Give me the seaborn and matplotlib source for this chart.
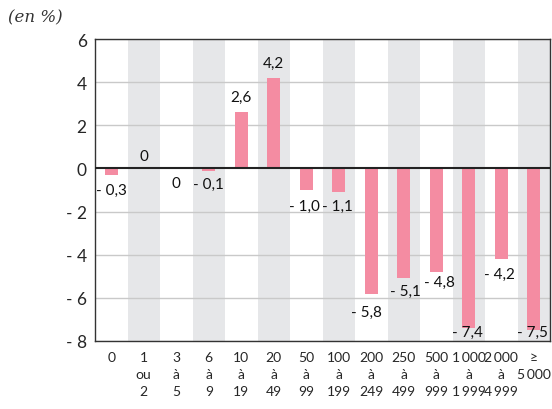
import matplotlib
matplotlib.use("Agg")
import matplotlib.pyplot as plt
import seaborn as sns
import pandas as pd

# Data
categories = ["0", "1\nou\n2", "3\nà\n5", "6\nà\n9", "10\nà\n19", "20\nà\n49", "50\nà\n99",
              "100\nà\n199", "200\nà\n249", "250\nà\n499", "500\nà\n999",
              "1\u2009000\nà\n1\u2009999", "2\u2009000\nà\n4\u2009999", "≥\n5\u2009000"]
values = [-0.3, 0.0, 0.0, -0.1, 2.6, 4.2, -1.0, -1.1, -5.8, -5.1, -4.8, -7.4, -4.2, -7.5]
value_labels = ["- 0,3", "0", "0", "- 0,1", "2,6", "4,2", "- 1,0", "- 1,1",
                "- 5,8", "- 5,1", "- 4,8", "- 7,4", "- 4,2", "- 7,5"]
yticks = [6, 4, 2, 0, -2, -4, -6, -8]
ytick_labels = ["6", "4", "2", "0", "- 2", "- 4", "- 6", "- 8"]

# label placement (style)
label_y = [-1.0, 0.57, -0.68, -0.72, 3.3, 4.9, -1.74, -1.74, -6.65, -5.68, -5.26, -7.6, -4.9, -7.6]
label_dx = [0.0, 0.0, 0.0, 0.0, 0.0, 0.0, -0.05, -0.05, -0.15, 0.05, 0.1, -0.05, -0.05, -0.05]

sns.set_theme(style="white")
plt.rcParams['font.family'] = ['Lato', 'DejaVu Sans']

fig = plt.figure(figsize=(5.52, 4.10), dpi=100)
ax = fig.add_axes([95/552, 1-342/410, 455/552, 302/410])

df = pd.DataFrame({"cat": categories, "val": values})

for i in range(len(categories)):
    if i % 2 == 1:
        ax.axvspan(i-0.5, i+0.5, color="#e6e7e9", zorder=0, lw=0)

for t in yticks:
    if t != 0:
        ax.axhline(t, color="#c9c9c9", lw=1, zorder=1)

sns.barplot(data=df, x="cat", y="val", color="#f48ca2", width=0.4, ax=ax,
            saturation=1, zorder=2, linewidth=0, edgecolor="none")
ax.axhline(0, color="#222222", lw=1.5, zorder=3)

for i, (lab, ly, dx) in enumerate(zip(value_labels, label_y, label_dx)):
    ax.text(i + dx, ly, lab, ha="center", va="center", fontsize=11, color="#111111", zorder=4)

ax.set_xlim(-0.5, len(categories)-0.5)
ax.set_ylim(-8, 6)
ax.set_yticks(yticks)
ax.set_yticklabels(ytick_labels, fontsize=12.5)
ax.set_xticks(range(len(categories)))
ax.set_xticklabels(categories, fontsize=10, linespacing=1.5)
ax.tick_params(axis="both", length=0, pad=6)
ax.tick_params(axis="x", pad=7)
ax.set_xlabel("")
ax.set_ylabel("")
for s in ax.spines.values():
    s.set_color("#333333")
    s.set_linewidth(1)
    s.set_visible(True)

fig.text(8/552, 1-18/410, "(en %)", fontsize=12, style="italic", family="DejaVu Serif",
         va="center", ha="left", color="#333333")

fig.savefig("out.png", dpi=100)
